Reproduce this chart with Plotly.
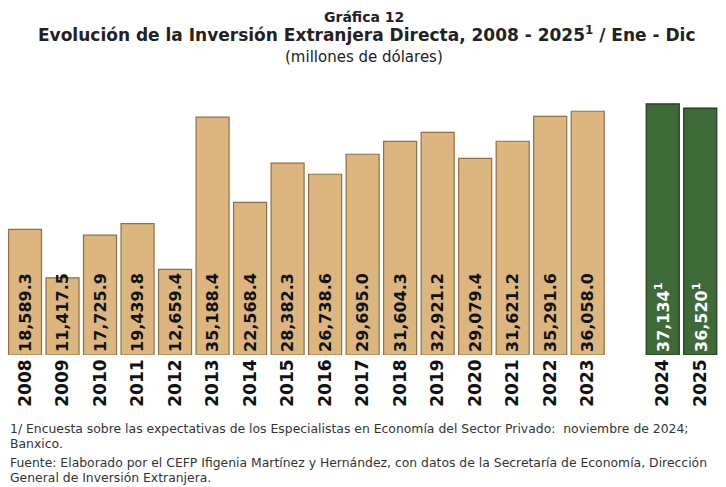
import plotly.graph_objects as go

years = ["2008", "2009", "2010", "2011", "2012", "2013", "2014", "2015", "2016",
         "2017", "2018", "2019", "2020", "2021", "2022", "2023", "2024", "2025"]
values = [18589.3, 11417.5, 17725.9, 19439.8, 12659.4, 35188.4, 22568.4, 28382.3,
          26738.6, 29695.0, 31604.3, 32921.2, 29079.4, 31621.2, 35291.6, 36058.0,
          37134.0, 36520.0]
labels = ["18,589.3", "11,417.5", "17,725.9", "19,439.8", "12,659.4", "35,188.4",
          "22,568.4", "28,382.3", "26,738.6", "29,695.0", "31,604.3", "32,921.2",
          "29,079.4", "31,621.2", "35,291.6", "36,058.0",
          "37,134<sup>1</sup>", "36,520<sup>1</sup>"]
# position of each bar (one empty slot between 2023 and the 2024-2025 estimates)
slots = list(range(16)) + [17, 18]
n_obs = 16

_FONT = "DejaVu Sans"
_TEXT = "#222222"
_TAN = "#dcb67e"
_TAN_EDGE = "#8f7046"
_GREEN = "#3e6a38"
_GREEN_EDGE = "#1e361b"

fig = go.Figure()

fig.add_trace(go.Bar(
    x=slots[:n_obs], y=values[:n_obs], text=labels[:n_obs],
    marker=dict(color=_TAN, line=dict(color=_TAN_EDGE, width=1.2)),
    textposition="inside", insidetextanchor="start", textangle=-90,
    textfont=dict(family=_FONT, size=16, color="#111111", weight="bold"),
    cliponaxis=False, showlegend=False,
))
fig.add_trace(go.Bar(
    x=slots[n_obs:], y=values[n_obs:], text=labels[n_obs:],
    marker=dict(color=_GREEN, line=dict(color=_GREEN_EDGE, width=1.2)),
    textposition="inside", insidetextanchor="start", textangle=-90,
    textfont=dict(family=_FONT, size=16, color="white", weight="bold"),
    cliponaxis=False, showlegend=False,
))

# titles and footnotes (paper coords: 0 = bar baseline, 1 = top of plot area)
def py(px):
    return (355 - px) / 265

annotations = [
    dict(text="<b>Gráfica 12</b>", x=0.5, y=py(7), xref="paper", yref="paper",
         xanchor="center", yanchor="top", showarrow=False,
         font=dict(family=_FONT, size=14, color=_TEXT)),
    dict(text="<b>Evolución de la Inversión Extranjera Directa, 2008 - 2025<sup>1</sup> / Ene - Dic</b>",
         x=0.505, y=py(34), xref="paper", yref="paper",
         xanchor="center", yanchor="middle", showarrow=False,
         font=dict(family=_FONT, size=17, color=_TEXT)),
    dict(text="(millones de dólares)", x=0.5, y=py(57), xref="paper", yref="paper",
         xanchor="center", yanchor="middle", showarrow=False,
         font=dict(family=_FONT, size=15, color=_TEXT)),
]

notes = [
    ("1/ Encuesta sobre las expectativas de los Especialistas en Economía del Sector Privado:  noviembre de 2024;", 428),
    ("Banxico.", 443),
    ("Fuente: Elaborado por el CEFP Ifigenia Martínez y Hernández, con datos de la Secretaría de Economía, Dirección", 462),
    ("General de Inversión Extranjera.", 477),
]
for t, ypx in notes:
    annotations.append(dict(
        text=t, x=0, y=py(ypx), xref="paper", yref="paper",
        xanchor="left", yanchor="middle", showarrow=False,
        font=dict(family=_FONT, size=12.4, color="#333333"),
    ))

# page body has an 8px margin, so the figure is 8px smaller than the window
fig.update_layout(
    width=718, height=479,
    paper_bgcolor="white", plot_bgcolor="white",
    bargap=0.12,
    margin=dict(l=0, r=7, t=82, b=132, autoexpand=False),
    xaxis=dict(
        range=[-0.4533, 18.5], tickmode="array", tickvals=slots, ticktext=years,
        tickangle=-90, showgrid=False, zeroline=False, showline=False, ticks="",
        tickfont=dict(family=_FONT, size=17, color="#111111", weight="bold"),
    ),
    yaxis=dict(range=[0, 39200], visible=False),
    annotations=annotations,
    uniformtext=dict(minsize=16, mode="show"),
    font=dict(family=_FONT, color=_TEXT),
)

fig.write_html("out.html")
